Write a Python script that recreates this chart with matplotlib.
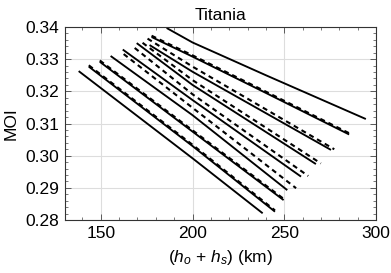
import matplotlib
matplotlib.use("Agg")
import matplotlib.pyplot as plt
from matplotlib.ticker import MultipleLocator, FormatStrFormatter

plt.rcParams['font.family'] = ['Liberation Sans', 'DejaVu Sans']
plt.rcParams['mathtext.fontset'] = 'custom'
plt.rcParams['mathtext.rm'] = 'Liberation Sans'
plt.rcParams['mathtext.it'] = 'Liberation Sans:italic'

# solid curves: (h_o + h_s) in km vs MOI
solid_x = [
    [138.0, 200.0, 238.2],
    [143.5, 200.0, 244.9],
    [149.5, 200.0, 249.6],
    [155.4, 200.0, 251.6],
    [162.0, 200.0, 259.1],
    [169.6, 200.0, 267.2],
    [176.6, 200.0, 275.4],
    [177.7, 200.0, 240.0, 285.3],
    [185.9, 200.0, 240.0, 294.4],
]
solid_y = [
    [0.3263, 0.2992, 0.2821],
    [0.3277, 0.3030, 0.2826],
    [0.3292, 0.3075, 0.2862],
    [0.3310, 0.3126, 0.2893],
    [0.3330, 0.3173, 0.2935],
    [0.3350, 0.3220, 0.2974],
    [0.3344, 0.3261, 0.3018],
    [0.3369, 0.3308, 0.3195, 0.3066],
    [0.3397, 0.3352, 0.3250, 0.3114],
]

# dashed curves
dash_x = [
    [143.5, 200.0, 244.9],
    [149.5, 200.0, 249.6],
    [162.5, 200.0, 256.4],
    [168.5, 200.0, 263.0],
    [172.8, 200.0, 269.9],
    [175.5, 200.0, 277.2],
    [177.7, 200.0, 240.0, 285.3],
]
dash_y = [
    [0.3281, 0.3034, 0.2830],
    [0.3296, 0.3079, 0.2866],
    [0.3316, 0.3149, 0.2899],
    [0.3335, 0.3191, 0.2937],
    [0.3351, 0.3235, 0.2976],
    [0.3364, 0.3277, 0.3020],
    [0.3373, 0.3312, 0.3199, 0.3070],
]

fig = plt.figure(figsize=(3.91, 2.73), dpi=100)
ax = fig.add_axes([0.166, 0.194, 0.796, 0.707])

for xs, ys in zip(solid_x, solid_y):
    ax.plot(xs, ys, color='black', lw=1.35, ls='-', solid_capstyle='butt')
for xs, ys in zip(dash_x, dash_y):
    ax.plot(xs, ys, color='black', lw=1.5, ls=(0, (2.4, 1.9)))

ax.set_xlim(130.5, 300)
ax.set_ylim(0.28, 0.34)
ax.xaxis.set_major_locator(MultipleLocator(50))
ax.xaxis.set_minor_locator(MultipleLocator(10))
ax.yaxis.set_major_locator(MultipleLocator(0.01))
ax.yaxis.set_minor_locator(MultipleLocator(0.002))
ax.yaxis.set_major_formatter(FormatStrFormatter('%.2f'))
ax.tick_params(which='both', direction='in', top=True, right=True, labelsize=12.5, color='#444444')
ax.tick_params(which='major', length=4.5, width=0.6, pad=4)
ax.tick_params(which='minor', length=2.2, width=0.5)
for s in ax.spines.values():
    s.set_linewidth(0.8)
    s.set_color('#333333')
ax.grid(which='major', color='#dddddd', lw=0.8)
ax.set_axisbelow(True)

ax.set_title('Titania', fontsize=12.5, pad=5)
ax.set_ylabel('MOI', fontsize=12.5, labelpad=5)
ax.set_xlabel(r'($h_o$ + $h_s$) (km)', fontsize=12.5, labelpad=5)

fig.savefig('out.png', dpi=100)
